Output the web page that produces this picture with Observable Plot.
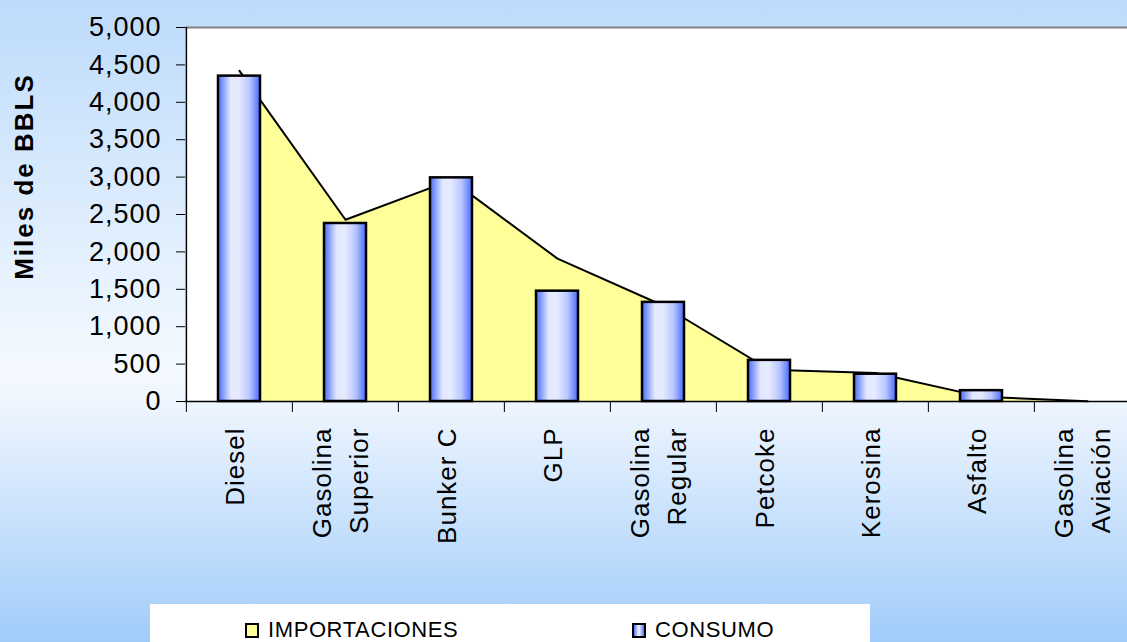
<!DOCTYPE html>
<html><head><meta charset="utf-8">
<script src="https://cdn.jsdelivr.net/npm/d3@7"></script>
<script src="https://cdn.jsdelivr.net/npm/@observablehq/plot@0.6"></script>
<style>
html,body{margin:0;padding:0;overflow:hidden;}
#wrap{position:relative;width:1127px;height:642px;overflow:hidden;
  background:linear-gradient(to bottom,#bddbfb 0%,#f5faff 58%,#ecf4fe 64%,#a0ccfa 100%);
  font-family:"Liberation Sans",Arial,sans-serif;color:#000;}
#chart{position:absolute;left:0;top:0;}
#legend{position:absolute;left:150px;top:604px;width:720px;height:38px;background:#fff;}
.item{position:absolute;top:15px;font-size:22px;line-height:22px;display:flex;align-items:center;letter-spacing:0.6px;}
.sw{width:10px;height:11px;border:2px solid #000;margin-right:9px;}
#chart g[aria-label="x-axis tick label"] text{letter-spacing:1px;}
#chart g[aria-label="y-axis tick label"] text{letter-spacing:1px;}
#chart g[aria-label="text"] text{letter-spacing:2px;}
</style></head>
<body>
<div id="wrap">
  <div id="chart"></div>
  <div id="legend">
    <div class="item" style="left:95px"><span class="sw" style="background:#ffff99"></span><span id="lg1"></span></div>
    <div class="item" style="left:482px"><span class="sw" style="background:linear-gradient(to right,#4f6ffc,#e4e9ff 40%,#e4e9ff 55%,#4f6ffc)"></span><span id="lg2"></span></div>
  </div>
</div>
<script>
const categories = ["Diesel", "Gasolina\nSuperior", "Bunker C", "GLP", "Gasolina\nRegular", "Petcoke", "Kerosina", "Asfalto", "Gasolina\nAviación"];
const importaciones = [4420, 2430, 2960, 1910, 1280, 425, 380, 65, 3];
const consumo = [4350, 2380, 2990, 1475, 1325, 550, 365, 145, 0];
const yTicks = [0, 500, 1000, 1500, 2000, 2500, 3000, 3500, 4000, 4500, 5000];
const seriesNames = ["IMPORTACIONES", "CONSUMO"];
const yLabel = "Miles de BBLS";

document.getElementById("lg1").textContent = seriesNames[0];
document.getElementById("lg2").textContent = seriesNames[1];

const data = categories.map((c, i) => ({cat: c, imp: importaciones[i], con: consumo[i]}));

const W = 1141, ML = 185;
const step = (W - ML) / categories.length;

const defs = () => {
  const s = d3.create("svg:defs");
  const g = s.append("linearGradient").attr("id", "barGrad")
    .attr("x1", "0").attr("x2", "1").attr("y1", "0").attr("y2", "0");
  [[0, "#4a6bfc"], [0.3, "#e2e8ff"], [0.5, "#e6ebff"], [0.75, "#b8c6ff"], [1, "#4a6bfc"]]
    .forEach(([o, c]) => g.append("stop").attr("offset", o).attr("stop-color", c));
  return s.node();
};

const chart = Plot.plot({
  width: W, height: 604,
  marginLeft: ML, marginRight: 0, marginTop: 27, marginBottom: 203,
  style: {background: "transparent", maxWidth: "none", color: "black",
          fontFamily: "'Liberation Sans', Arial, sans-serif", overflow: "hidden"},
  x: {type: "band", domain: categories, padding: 0},
  y: {domain: [0, 5000]},
  marks: [
    defs,
    Plot.frame({fill: "white", stroke: "none"}),
    Plot.ruleY([5000], {stroke: "#808080", strokeWidth: 2}),
    Plot.areaY(data, {x: "cat", y: "imp", fill: "#ffff99"}),
    Plot.lineY(data, {x: "cat", y: "imp", stroke: "black", strokeWidth: 2}),
    Plot.barY(data, {x: "cat", y: "con", fill: "url(#barGrad)", stroke: "black", strokeWidth: 2.5, insetLeft: 32, insetRight: 32}),
    Plot.ruleY([0], {stroke: "black", strokeWidth: 1.5}),
    Plot.ruleX([categories[0]], {x: d => d, dx: -step / 2, y1: 0, y2: 5000, stroke: "black", strokeWidth: 1.5}),
    Plot.ruleX(categories, {x: d => d, dx: -step / 2, y1: 0, y2: 0, insetBottom: -11, stroke: "black"}),
    Plot.axisY({ticks: yTicks, tickFormat: d3.format(","), tickSize: 9, tickPadding: 15, fontSize: 27, label: null, stroke: "black"}),
    Plot.axisX({tickSize: 0, tickPadding: 26, tickRotate: -90, fontSize: 26, lineHeight: 1.45, label: null, dx: -8}),
    Plot.text([yLabel], {text: d => d, frameAnchor: "left", textAnchor: "middle", rotate: -90, dx: -161, dy: -38, fontSize: 26, fontWeight: "bold"})
  ]
});
document.getElementById("chart").appendChild(chart);
</script>
</body></html>
